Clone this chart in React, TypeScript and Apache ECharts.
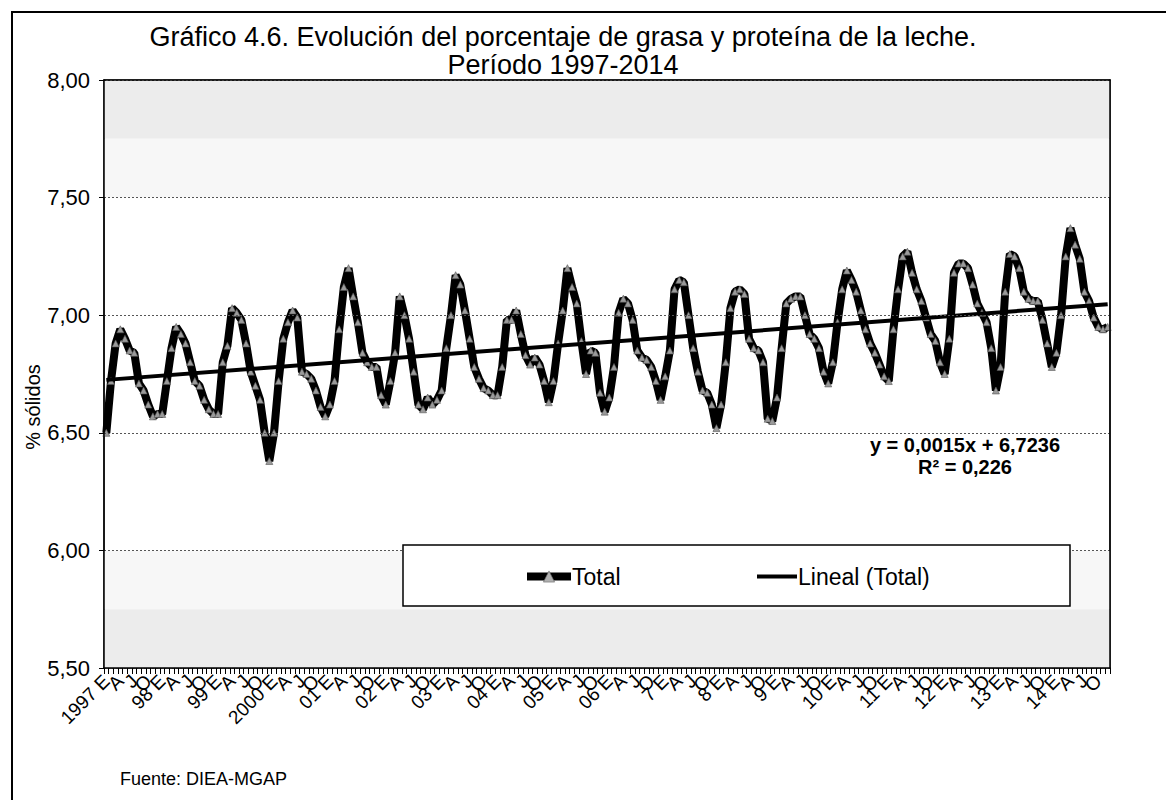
import React, { useEffect, useRef } from "react";
import * as echarts from "echarts";

// Year prefixes used on the category axis (as printed in the chart)
const yearLabels = ["1997", "98", "99", "2000", "01", "02", "03", "04", "05", "06", "7", "8", "9", "10", "11", "12", "13", "14"];
// Spanish month initials
const monthLetters = ["E", "F", "M", "A", "M", "J", "J", "A", "S", "O", "N", "D"];

// Monthly % sólidos (grasa + proteína)
const v1997 = [6.50, 6.72, 6.88, 6.94, 6.90, 6.85, 6.84, 6.71, 6.68, 6.62, 6.57, 6.58];
const v1998 = [6.58, 6.72, 6.86, 6.95, 6.92, 6.88, 6.80, 6.72, 6.70, 6.64, 6.60, 6.58];
const v1999 = [6.58, 6.80, 6.87, 7.03, 7.01, 6.98, 6.88, 6.76, 6.70, 6.64, 6.50, 6.38];
const v2000 = [6.50, 6.72, 6.90, 6.97, 7.02, 6.99, 6.76, 6.75, 6.73, 6.68, 6.61, 6.57];
const v2001 = [6.62, 6.72, 6.94, 7.12, 7.20, 7.08, 6.97, 6.84, 6.80, 6.78, 6.78, 6.66];
const v2002 = [6.62, 6.72, 6.84, 7.08, 7.00, 6.90, 6.76, 6.62, 6.60, 6.65, 6.62, 6.64];
const v2003 = [6.68, 6.86, 7.00, 7.17, 7.13, 7.02, 6.90, 6.78, 6.73, 6.69, 6.68, 6.66];
const v2004 = [6.66, 6.78, 6.98, 6.98, 7.02, 6.92, 6.83, 6.79, 6.82, 6.79, 6.72, 6.63];
const v2005 = [6.72, 6.88, 7.02, 7.20, 7.12, 7.05, 6.89, 6.75, 6.85, 6.84, 6.67, 6.59];
const v2006 = [6.65, 6.78, 7.01, 7.07, 7.05, 6.98, 6.85, 6.82, 6.81, 6.78, 6.72, 6.64];
const v2007 = [6.74, 6.85, 7.11, 7.15, 7.14, 7.00, 6.86, 6.76, 6.68, 6.67, 6.62, 6.52];
const v2008 = [6.62, 6.80, 7.03, 7.10, 7.11, 7.09, 6.90, 6.86, 6.85, 6.80, 6.56, 6.55];
const v2009 = [6.65, 6.86, 7.05, 7.07, 7.08, 7.08, 7.00, 6.92, 6.90, 6.86, 6.76, 6.71];
const v2010 = [6.80, 6.97, 7.11, 7.19, 7.15, 7.10, 7.02, 6.94, 6.88, 6.84, 6.79, 6.74];
const v2011 = [6.72, 6.94, 7.11, 7.25, 7.27, 7.18, 7.11, 7.06, 6.99, 6.92, 6.89, 6.80];
const v2012 = [6.75, 6.90, 7.18, 7.22, 7.22, 7.20, 7.13, 7.05, 7.01, 6.97, 6.86, 6.68];
const v2013 = [6.78, 7.10, 7.26, 7.25, 7.20, 7.10, 7.07, 7.06, 7.06, 6.98, 6.88, 6.78];
const v2014 = [6.84, 7.00, 7.25, 7.37, 7.30, 7.24, 7.10, 7.06, 6.99, 6.95, 6.94, 6.95];

// Linear trend endpoints (first and last month), as drawn
const trendEnds = [6.725, 7.047];

// Y axis
const yMin = 5.5;
const yMax = 8.0;
const yStep = 0.5;

const FONT = "'Liberation Sans', Arial, sans-serif";

export default function App() {
  const ref = useRef<HTMLDivElement>(null);

  useEffect(() => {
    if (!ref.current) return;
    const chart = echarts.init(ref.current, null, { renderer: "svg" });

    const yearValues = [v1997, v1998, v1999, v2000, v2001, v2002, v2003, v2004, v2005, v2006, v2007, v2008, v2009, v2010, v2011, v2012, v2013, v2014];
    const categories: string[] = [];
    const total: number[] = [];
    yearValues.forEach((arr, yi) => {
      arr.forEach((v, mi) => {
        categories.push(mi === 0 ? `${yearLabels[yi]} ${monthLetters[mi]}` : monthLetters[mi]);
        total.push(v);
      });
    });
    const last = total.length - 1;

    chart.setOption({
      animation: false,
      backgroundColor: "#ffffff",
      textStyle: { fontFamily: FONT },
      grid: { left: 104, right: 56, top: 80, bottom: 132, show: true, borderColor: "#000", borderWidth: 1.2, backgroundColor: "transparent" },
      title: {
        text: "Gráfico 4.6. Evolución del porcentaje de grasa y proteína de la leche.\nPeríodo 1997-2014",
        left: 558,
        textAlign: "center",
        top: 18,
        textStyle: { fontFamily: FONT, fontSize: 27, fontWeight: "normal", color: "#000", lineHeight: 28 },
      },
      xAxis: [
        {
          type: "category",
          data: categories,
          boundaryGap: true,
          z: 10,
          axisLine: { lineStyle: { color: "#000", width: 1.5 } },
          axisTick: { show: true, interval: 0, length: 6, lineStyle: { color: "#000" } },
          axisLabel: {
            interval: 0,
            rotate: 45,
            fontSize: 19,
            color: "#000",
            margin: 10,
            fontFamily: FONT,
            hideOverlap: false,
            formatter: (v: string, i: number) => (i % 3 === 0 ? v : ""),
          },
          splitLine: { show: false },
        },
        {
          type: "category",
          data: categories,
          position: "top",
          z: 10,
          axisLine: { show: true, lineStyle: { color: "#000", width: 1.5 } },
          axisTick: { show: false },
          axisLabel: { show: false },
          splitLine: { show: false },
        },
      ],
      yAxis: [
        {
          type: "value",
          min: yMin,
          max: yMax,
          interval: yStep,
          z: 10,
          axisLine: { show: true, lineStyle: { color: "#000", width: 1.5 } },
          axisTick: { show: true, length: 5, lineStyle: { color: "#000" } },
          axisLabel: {
            fontSize: 22,
            color: "#000",
            margin: 14,
            fontFamily: FONT,
            formatter: (v: number) => v.toFixed(2).replace(".", ","),
          },
          splitLine: { show: true, lineStyle: { color: "#555", type: [2, 2], width: 1 } },
        },
        {
          type: "value",
          min: yMin,
          max: yMax,
          interval: yStep,
          position: "right",
          z: 10,
          axisLine: { show: true, lineStyle: { color: "#000", width: 1.5 } },
          axisTick: { show: false },
          axisLabel: { show: false },
          splitLine: { show: false },
        },
      ],
      legend: [
        {
          data: ["Total"],
          left: 518,
          top: 560,
          itemWidth: 44,
          itemHeight: 14,
          itemGap: 0,
          z: 20,
          lineStyle: { width: 8, color: "#000" },
          itemStyle: { color: "#b0b0b0", borderColor: "#666", borderWidth: 0.6 },
          textStyle: { fontSize: 23, color: "#000", fontFamily: FONT, padding: [0, 0, 0, -4] },
        },
        {
          data: [{ name: "Lineal (Total)", icon: "rect" }],
          left: 752,
          top: 560,
          itemWidth: 40,
          itemHeight: 4,
          z: 20,
          itemStyle: { color: "#000", borderWidth: 0 },
          textStyle: { fontSize: 23, color: "#000", fontFamily: FONT, padding: [0, 0, 0, -4] },
        },
      ],
      graphic: [
        {
          type: "rect",
          z: 5,
          shape: { x: 12, y: 12, width: 1170, height: 800 },
          style: { fill: "none", stroke: "#000", lineWidth: 2 },
        },
        {
          type: "rect",
          z: 15,
          shape: { x: 403, y: 545, width: 667, height: 61 },
          style: { fill: "#fff", stroke: "#000", lineWidth: 1.5 },
        },
        {
          type: "text",
          z: 20,
          x: 33,
          y: 407,
          rotation: Math.PI / 2,
          style: { text: "% sólidos", font: `20px ${FONT}`, fill: "#000", textAlign: "center", textVerticalAlign: "middle" },
        },
        {
          type: "text",
          z: 20,
          x: 965,
          y: 445,
          style: { text: "y = 0,0015x + 6,7236", font: `bold 20px ${FONT}`, fill: "#000", textAlign: "center", textVerticalAlign: "middle" },
        },
        {
          type: "text",
          z: 20,
          x: 965,
          y: 467,
          style: { text: "R² = 0,226", font: `bold 20px ${FONT}`, fill: "#000", textAlign: "center", textVerticalAlign: "middle" },
        },
        {
          type: "text",
          z: 20,
          x: 120,
          y: 779,
          style: { text: "Fuente: DIEA-MGAP", font: `18px ${FONT}`, fill: "#000", textAlign: "left", textVerticalAlign: "middle" },
        },
      ],
      series: [
        {
          name: "Total",
          type: "line",
          data: total,
          z: 3,
          symbol: "triangle",
          symbolSize: 7,
          showSymbol: true,
          lineStyle: { color: "#000", width: 8 },
          itemStyle: { color: "#9a9a9a", borderColor: "#555", borderWidth: 0.6 },
          markArea: {
            silent: true,
            data: [
              [{ yAxis: 7.75, itemStyle: { color: "#ececec" } }, { yAxis: 8.0 }],
              [{ yAxis: 7.5, itemStyle: { color: "#f7f7f7" } }, { yAxis: 7.75 }],
              [{ yAxis: 5.75, itemStyle: { color: "#f7f7f7" } }, { yAxis: 6.0 }],
              [{ yAxis: 5.5, itemStyle: { color: "#ececec" } }, { yAxis: 5.75 }],
            ],
          },
        },
        {
          name: "Lineal (Total)",
          type: "line",
          data: [
            [0, trendEnds[0]],
            [last, trendEnds[1]],
          ],
          z: 4,
          symbol: "none",
          lineStyle: { color: "#000", width: 4 },
          itemStyle: { color: "#000" },
        },
      ],
    });

    return () => chart.dispose();
  }, []);

  return <div ref={ref} style={{ position: "absolute", left: 0, top: 0, width: 1166, height: 800 }} />;
}
